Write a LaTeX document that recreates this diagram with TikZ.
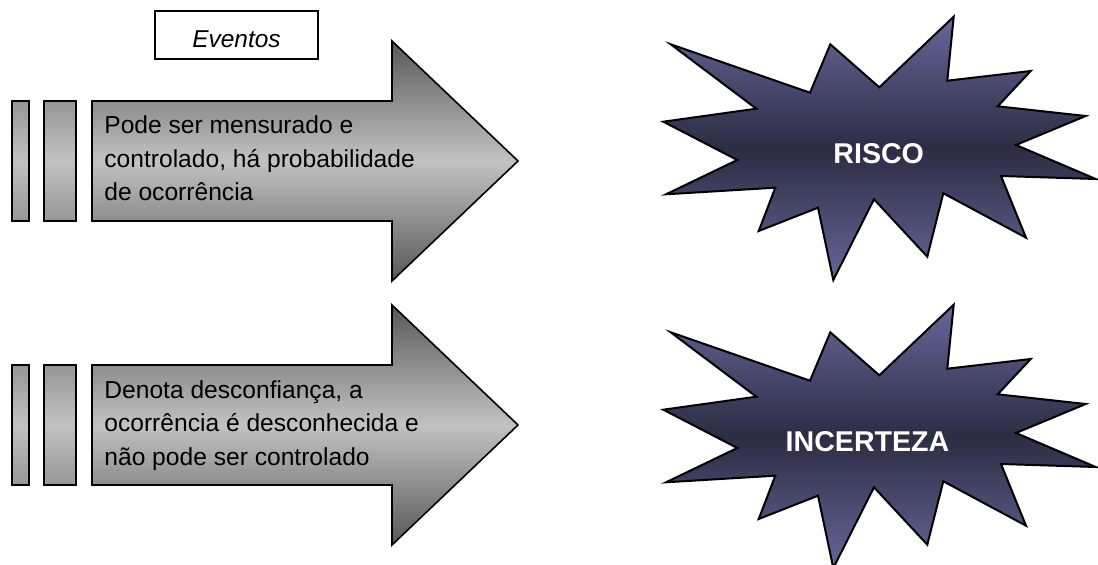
\documentclass[tikz,border=0pt]{standalone}
\usepackage{fontspec}
\setmainfont{Liberation Sans}
\begin{document}
\begin{tikzpicture}[x=0.5pt,y=-0.5pt,
  arrowshape/.style={draw=black,line width=0.8pt,top color=arrowdark,bottom color=arrowdark,middle color=arrowlight},
  barshape/.style={draw=black,line width=1.1pt,top color=bardark,bottom color=bardark,middle color=arrowlight},
  starshape/.style={draw=black,line width=1pt,line join=miter,top color=starlight,bottom color=starlight,middle color=stardark},
  bodytext/.style={anchor=north west,inner sep=0pt,align=left,font=\fontsize{12.3}{16.75}\selectfont},
  startext/.style={anchor=base,inner sep=0pt,text=white,font=\fontsize{14.3}{17}\selectfont\bfseries},
  evbox/.style={draw=black,line width=0.6pt,minimum width=81.5pt,minimum height=24pt,inner sep=0pt}
]
\definecolor{arrowdark}{HTML}{585858}
\definecolor{arrowlight}{HTML}{C2C2C2}
\definecolor{bardark}{HTML}{969696}
\definecolor{starlight}{HTML}{676799}
\definecolor{stardark}{HTML}{2C2C44}
\useasboundingbox (0,0) rectangle (1098,565);

% Eventos box
\node[evbox] (ev) at (236.5,35) {};
\node[anchor=base,inner sep=0pt,font=\fontsize{12.2}{14}\selectfont\itshape] (evtext) at (236.5,48) {Eventos};

% top arrow
\draw[barshape] (12,101) rectangle (29,221);
\draw[barshape] (44,101) rectangle (76,221);
\draw[arrowshape] (92,101) -- (392,101) -- (392,41) -- (518,161) -- (392,281) -- (392,221) -- (92,221) -- cycle;
\node[bodytext] (t1) at (104,115.3) {Pode ser mensurado e\\controlado, há probabilidade\\de ocorrência};

% bottom arrow
\draw[barshape] (12,365) rectangle (29,485);
\draw[barshape] (44,365) rectangle (76,485);
\draw[arrowshape] (92,365) -- (392,365) -- (392,305) -- (518,425) -- (392,545) -- (392,485) -- (92,485) -- cycle;
\node[bodytext] (t2) at (104,380) {Denota desconfiança, a\\ocorrência é desconhecida e\\não pode ser controlado};

% stars
\def\starpath{(670.7,44.3) -- (810,92.7) -- (830.3,44.3) -- (879.3,87.3) -- (953.7,16.7) -- (947.3,80.7) -- (1030.7,71) -- (997.7,106.3) -- (1085.7,116) -- (1016,145) -- (1095.7,179) -- (1001,176) -- (1026,237.7) -- (943.3,193.3) -- (927.3,256.7) -- (874,199.3) -- (833.3,280) -- (818,207.7) -- (758.7,231) -- (775.3,187.7) -- (666,194.3) -- (737.3,160) -- (663.3,121.7) -- (756.3,108.7) -- cycle}
\draw[starshape] \starpath;
\node[startext] (risco) at (878.7,163.5) {RISCO};
\begin{scope}[shift={(0,288)}]
\draw[starshape] \starpath;
\end{scope}
\node[startext] (incerteza) at (867.5,451.7) {INCERTEZA};
\end{tikzpicture}
\end{document}
